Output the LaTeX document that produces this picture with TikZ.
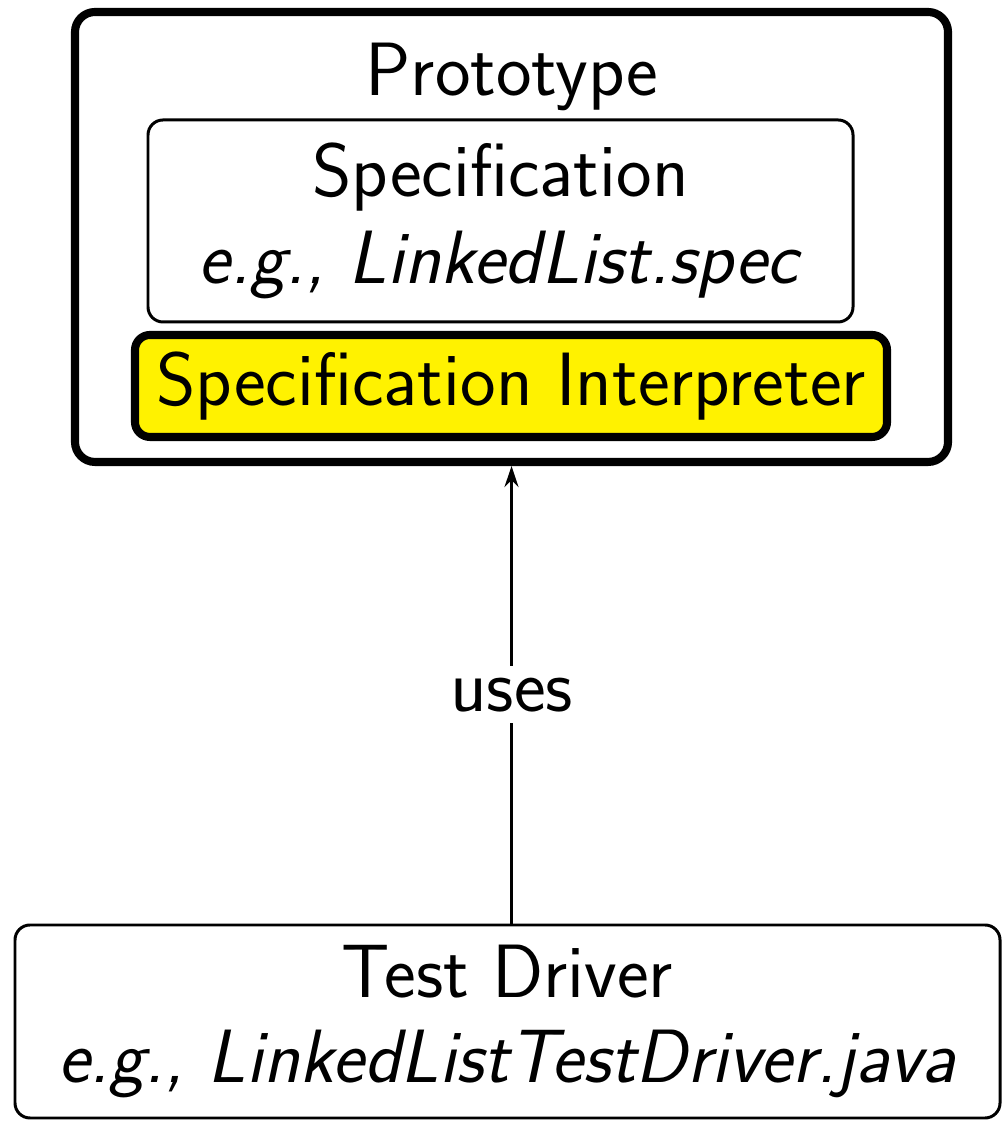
\documentclass[tikz,border=0pt]{standalone}
\usetikzlibrary{arrows.meta}

\begin{document}
\begin{tikzpicture}[every node/.style={font=\fontsize{21.5}{24}\selectfont\sffamily}]
    \useasboundingbox (0,0) rectangle (10.03,11.24);

    % prototype with its parts
    \node[draw, line width=2.3pt, rounded corners=0.2cm, minimum width=8.73cm, minimum height=4.5cm] (proto) at (5.115,8.87) {};
    \node (protolabel) at (5.12,10.47) {Prototype};
    \node[draw, line width=0.85pt, rounded corners=0.15cm, minimum width=7.05cm, minimum height=2.02cm, align=center] (spec) at (5.005,9.03)
        {Specification\\[0.7pt] \textit{e.g.,} \textit{LinkedList.spec}};
    \node[draw, fill=yellow, line width=2.3pt, rounded corners=0.15cm, minimum width=7.52cm, minimum height=1.02cm] (interp) at (5.11,7.38)
        {Specification Interpreter};

    % driver
    \node[draw, line width=0.85pt, rounded corners=0.15cm, minimum width=9.85cm, minimum height=1.93cm, align=center] (driver) at (5.075,1.025)
        {Test Driver\\ \textit{e.g.,} \textit{LinkedListTestDriver.java}};

    \draw[line width=0.6pt, -{Stealth[length=6pt, width=4pt]}] (driver.north -| proto.south) -- node[fill=white] (uses) {uses} (proto.south);
\end{tikzpicture}
\end{document}
